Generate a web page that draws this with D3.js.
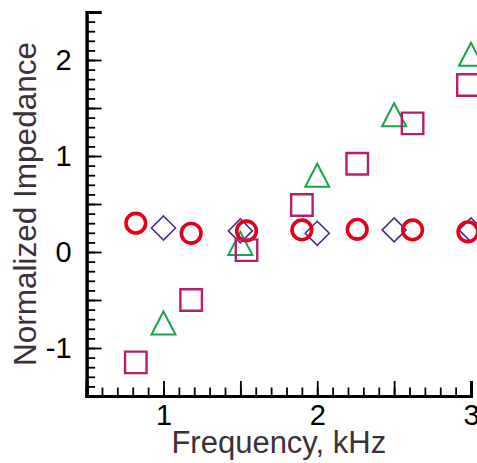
<!DOCTYPE html>
<html>
<head>
<meta charset="utf-8">
<script src="https://cdn.jsdelivr.net/npm/d3@7"></script>
<style>
  body { margin: 0; background: #fff; }
  svg { display: block; font-family: Arial, "Liberation Sans", sans-serif; }
</style>
</head>
<body>
<div id="chart"></div>
<script>
// data
const freqA = [0.82, 1.18, 1.54, 1.90, 2.26, 2.62, 2.98];   // circles + squares
const freqB = [1.0, 1.5, 2.0, 2.5, 3.0];                     // diamonds + triangles
const circleVals = [0.30, 0.195, 0.22, 0.23, 0.236, 0.23, 0.21];
const squareVals = [-1.15, -0.50, 0.02, 0.49, 0.92, 1.34, 1.74];
const diamondVals = [0.25, 0.22, 0.195, 0.23, 0.23];
const triangleVals = [-0.74, 0.09, 0.80, 1.43, 2.06];
const yLabels = [-1, 0, 1, 2];
const xLabels = [1, 2, 3];

const width = 477, height = 463;

const svg = d3.select("#chart").append("svg")
  .attr("width", width)
  .attr("height", height);

const x = d3.scaleLinear().domain([0.5, 3]).range([86.6, 471]);
const y = d3.scaleLinear().domain([-1.5, 2.5]).range([396, 12]);

// custom symbol shapes (centered on bbox)
const diamondShape = {
  draw(ctx, size) {
    const r = Math.sqrt(size) / 2;
    ctx.moveTo(0, -r); ctx.lineTo(r, 0); ctx.lineTo(0, r); ctx.lineTo(-r, 0); ctx.closePath();
  }
};
const triangleShape = {
  draw(ctx, size) {
    const r = Math.sqrt(size) / 2;
    ctx.moveTo(0, -r * 0.96); ctx.lineTo(r, r * 0.96); ctx.lineTo(-r, r * 0.96); ctx.closePath();
  }
};

// ---- axes ----
const minorY = d3.range(-1.5, 2.501, 0.1).map(v => +v.toFixed(1));
const majorY = d3.range(-1.5, 2.501, 0.5);
const minorX = d3.range(0.5, 3.001, 0.1).map(v => +v.toFixed(1));
const majorX = d3.range(0.5, 3.001, 0.5);

const yAxisG = svg.append("g").attr("transform", `translate(${x(0.5)},0)`);
yAxisG.append("g")
  .call(d3.axisLeft(y).tickValues(minorY).tickSize(-8.5).tickFormat(""));
yAxisG.append("g")
  .call(d3.axisLeft(y).tickValues(majorY).tickSize(-15).tickPadding(15)
    .tickFormat(d => yLabels.includes(d) ? String(d) : ""));

const xAxisG = svg.append("g").attr("transform", `translate(0,${y(-1.5)})`);
xAxisG.append("g")
  .call(d3.axisBottom(x).tickValues(minorX).tickSize(-8.5).tickFormat(""));
xAxisG.append("g")
  .call(d3.axisBottom(x).tickValues(majorX).tickSize(-15).tickPadding(8)
    .tickFormat(d => xLabels.includes(d) ? String(d) : ""));

svg.selectAll(".tick line").attr("stroke", "#000").attr("stroke-width", 1.8);
svg.selectAll(".domain").attr("stroke", "#000").attr("stroke-width", 3);
svg.selectAll(".tick text")
  .attr("fill", "#000")
  .style("font-size", "29px");

// axis titles
svg.append("text")
  .attr("x", (x(0.5) + x(3)) / 2)
  .attr("y", 453)
  .attr("text-anchor", "middle")
  .attr("fill", "#3b3238")
  .style("font-size", "31px")
  .text("Frequency, kHz");

svg.append("text")
  .attr("transform", `translate(36,${(y(-1.5) + y(2.5)) / 2}) rotate(-90)`)
  .attr("text-anchor", "middle")
  .attr("fill", "#3b3238")
  .style("font-size", "31.5px")
  .text("Normalized Impedance");

// ---- markers ----
const plot = svg.append("g");

plot.selectAll(".diamond")
  .data(d3.zip(freqB, diamondVals))
  .enter().append("path")
    .attr("class", "diamond")
    .attr("d", d3.symbol().type(diamondShape).size(24 * 24))
    .attr("transform", d => `translate(${x(d[0])},${y(d[1])})`)
    .attr("fill", "none")
    .attr("stroke", "#4b2d8f")
    .attr("stroke-width", 1.6);

plot.selectAll(".triangle")
  .data(d3.zip(freqB, triangleVals))
  .enter().append("path")
    .attr("class", "triangle")
    .attr("d", d3.symbol().type(triangleShape).size(24 * 24))
    .attr("transform", d => `translate(${x(d[0])},${y(d[1])})`)
    .attr("fill", "none")
    .attr("stroke", "#17a54a")
    .attr("stroke-width", 2);

plot.selectAll(".circle")
  .data(d3.zip(freqA, circleVals))
  .enter().append("path")
    .attr("class", "circle")
    .attr("d", d3.symbol().type(d3.symbolCircle).size(Math.PI * 9.8 * 9.8))
    .attr("transform", d => `translate(${x(d[0])},${y(d[1])})`)
    .attr("fill", "none")
    .attr("stroke", "#e2001b")
    .attr("stroke-width", 3.6);

plot.selectAll(".square")
  .data(d3.zip(freqA, squareVals))
  .enter().append("path")
    .attr("class", "square")
    .attr("d", d3.symbol().type(d3.symbolSquare).size(21.5 * 21.5))
    .attr("transform", d => `translate(${x(d[0])},${y(d[1])})`)
    .attr("fill", "none")
    .attr("stroke", "#b3206e")
    .attr("stroke-width", 2.4);
</script>
</body>
</html>
